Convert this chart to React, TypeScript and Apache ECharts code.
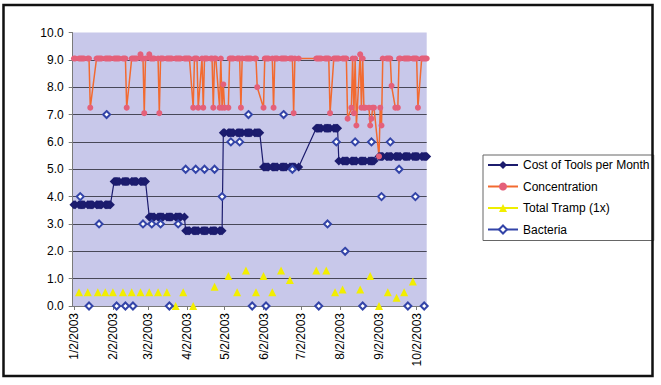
import React, { useEffect, useRef } from "react";
import * as echarts from "echarts";

// ---- axis range & tick labels ----
const FIRST_DAY = "1/1/2003";
const LAST_DAY = "10/10/2003";
const xTickLabels = [
  "1/2/2003", "2/2/2003", "3/2/2003", "4/2/2003", "5/2/2003",
  "6/2/2003", "7/2/2003", "8/2/2003", "9/2/2003", "10/2/2003",
];
const yTicks = [0, 1, 2, 3, 4, 5, 6, 7, 8, 9, 10];

// days without daily measurements (cost & concentration)
const firstSampleDay = "1/2/2003";
const noSampleRanges: [string, string][] = [
  ["7/1/2003", "7/11/2003"],
  ["9/1/2003", "9/1/2003"],
];

// ---- Cost of Tools per Month (one value per month, Jan..Oct) ----
const costPerMonth = [3.7, 4.55, 3.25, 2.75, 6.33, 5.08, 6.5, 5.3, 5.47, 5.47];

// ---- Concentration, one value per working day of each month ----
const concJan = [9.05, 9.05, 9.05, 9.05, 9.05, 9.05, 9.05, 9.05, 9.05, 7.25, null, null, 9.05, 9.05, 9.05, 9.05, 9.05, 9.05, 9.05, 9.05, 9.05, 9.05];
const concFeb = [9.05, 9.05, 9.05, 9.05, 9.05, 9.05, 9.05, 9.05, 7.25, null, 9.05, 9.05, 9.05, 9.05, 9.05, 9.2, 9.05, 9.05, 7.05, 9.05];
const concMar = [9.2, 9.05, 9.05, 9.05, 9.05, 9.05, 7.05, 9.05, 9.05, 9.05, 9.05, 9.05, 9.05, 9.05, 9.05, 9.05, 9.05, 9.05, 9.05, 9.05, 9.05];
const concApr = [9.05, 9.05, 9.05, 9.05, 7.25, 9.05, 9.05, 9.05, 7.25, 9.05, 7.25, 9.05, 9.05, 9.05, 9.05, 9.05, 7.25, 9.05, 9.05, 7.25, 9.05, 7.25];
const concMay = [8.1, 7.25, 7.25, 9.05, 9.05, 9.05, 9.05, 9.05, 9.05, 9.05, 7.25, 9.05, 9.05, 9.05, 9.05, 9.05, 9.05, 9.05, 9.05, 8.0, null, null];
const concJun = [7.25, 9.05, 9.05, 9.05, 9.05, 9.05, 7.25, 9.05, 9.05, 9.05, 9.05, 9.05, 9.05, 9.05, 9.05, 9.05, 9.05, 9.05, 7.05, 9.05, 9.05];
const concJul = [9.05, 9.05, 9.05, 9.05, 9.05, 9.05, 9.05, 9.05, 9.05, 7.05, 9.05, 9.05, 9.05, 9.05];
const concAug = [9.05, 9.05, 9.05, 9.05, 9.05, 6.85, 7.25, 9.05, 7.05, 9.05, 6.6, 9.2, 7.25, 9.05, 7.25, 7.25, 7.25, 6.6, 6.85, 7.25, 7.25];
const concSep = [5.47, 7.25, 6.6, 9.05, 9.05, 9.05, 9.05, 9.05, 8.05, 7.25, null, 7.25, 9.05, 9.05, 9.05, 9.05, 9.05, 9.05, 9.05, 9.05, 9.05];
const concOct = [9.05, 9.05, 7.25, 9.05, 9.05, 9.05, 9.05, 9.05];

// ---- Total Tramp (1x) ----
const trampDates = [
  "1/6/2003", "1/13/2003", "1/21/2003", "1/27/2003", "2/2/2003", "2/10/2003", "2/17/2003",
  "2/24/2003", "3/3/2003", "3/10/2003", "3/17/2003", "3/24/2003", "3/30/2003", "4/7/2003",
  "4/24/2003", "5/5/2003", "5/12/2003", "5/19/2003", "5/27/2003", "6/2/2003", "6/9/2003",
  "6/16/2003", "6/23/2003", "7/14/2003", "7/22/2003", "7/29/2003", "8/4/2003", "8/18/2003",
  "8/26/2003", "9/2/2003", "9/9/2003", "9/16/2003", "9/22/2003", "9/29/2003",
];
const trampValues = [
  0.5, 0.5, 0.5, 0.5, 0.5, 0.5, 0.5,
  0.5, 0.5, 0.5, 0.5, 0.0, 0.5, 0.0,
  0.7, 1.1, 0.5, 1.3, 0.5, 1.1, 0.5,
  1.3, 0.95, 1.3, 1.3, 0.5, 0.6, 0.6,
  1.1, 0.0, 0.5, 0.3, 0.5, 0.9,
];

// ---- Bacteria ----
const bacteriaDates = [
  "1/7/2003", "1/14/2003", "1/22/2003", "1/28/2003", "2/5/2003", "2/12/2003", "2/18/2003",
  "2/26/2003", "3/5/2003", "3/12/2003", "3/19/2003", "3/26/2003", "4/1/2003", "4/9/2003",
  "4/16/2003", "4/24/2003", "4/30/2003", "5/7/2003", "5/14/2003", "5/21/2003", "5/24/2003",
  "6/4/2003", "6/18/2003", "6/25/2003", "7/16/2003", "7/23/2003", "7/30/2003", "8/6/2003",
  "8/14/2003", "8/20/2003", "8/27/2003", "9/4/2003", "9/11/2003", "9/18/2003", "9/25/2003",
  "10/1/2003", "10/8/2003",
];
const bacteriaValues = [
  4, 0, 3, 7, 0, 0, 0,
  3, 3, 3, 0, 3, 5, 5,
  5, 5, 4, 6, 6, 7, 0,
  0, 7, 5, 0, 3, 6, 2,
  6, 0, 6, 4, 6, 5, 0,
  4, 0,
];

const seriesNames = ["Cost of Tools per Month", "Concentration", "Total Tramp (1x)", "Bacteria"];

// ---------------------------------------------------------------
const DAY = 86400000;
const parseKey = (s: string) => {
  const [m, d, y] = s.split("/").map(Number);
  return Date.UTC(y, m - 1, d);
};
const toKey = (t: number) => {
  const d = new Date(t);
  return `${d.getUTCMonth() + 1}/${d.getUTCDate()}/${d.getUTCFullYear()}`;
};

function buildData() {
  const categories: string[] = [];
  for (let t = parseKey(FIRST_DAY); t <= parseKey(LAST_DAY); t += DAY) categories.push(toKey(t));
  const idx = new Map<string, number>();
  categories.forEach((c, i) => idx.set(c, i));

  const n = categories.length;
  const cost: (number | null)[] = new Array(n).fill(null);
  const conc: (number | null)[] = new Array(n).fill(null);
  const tramp: (number | null)[] = new Array(n).fill(null);
  const bact: (number | null)[] = new Array(n).fill(null);

  const concByMonth = [concJan, concFeb, concMar, concApr, concMay, concJun, concJul, concAug, concSep, concOct];
  const start = parseKey(firstSampleDay);
  const end = parseKey(LAST_DAY);
  const excluded = (t: number) => noSampleRanges.some(([a, b]) => t >= parseKey(a) && t <= parseKey(b));
  const counters = new Array(12).fill(0);
  for (let t = start; t <= end; t += DAY) {
    const d = new Date(t);
    const wd = d.getUTCDay();
    if (wd === 0 || wd === 6 || excluded(t)) continue;
    const m = d.getUTCMonth();
    const i = idx.get(toKey(t))!;
    const k = counters[m]++;
    cost[i] = costPerMonth[m];
    const arr = concByMonth[m];
    if (arr && k < arr.length) conc[i] = arr[k];
  }
  trampDates.forEach((s, j) => { const i = idx.get(s); if (i !== undefined) tramp[i] = trampValues[j]; });
  bacteriaDates.forEach((s, j) => { const i = idx.get(s); if (i !== undefined) bact[i] = bacteriaValues[j]; });
  return { categories, cost, conc, tramp, bact };
}

const FONT = "'Liberation Sans', Arial, sans-serif";

export default function App() {
  const ref = useRef<HTMLDivElement>(null);
  useEffect(() => {
    if (!ref.current) return;
    const chart = echarts.init(ref.current, null, { renderer: "svg" });
    const { categories, cost, conc, tramp, bact } = buildData();
    const showTick = (_i: number, v: string) => xTickLabels.includes(v);
    chart.setOption({
      animation: false,
      backgroundColor: "#ffffff",
      textStyle: { fontFamily: FONT },
      grid: {
        left: 72.7, top: 32.5, right: 234.3, bottom: 79,
        show: true, backgroundColor: "#c8c8ea", borderWidth: 0,
      },
      xAxis: {
        type: "category",
        data: categories,
        boundaryGap: false,
        axisLine: { lineStyle: { color: "#7a7a7a", width: 1 } },
        axisTick: { show: true, interval: showTick, length: 4, lineStyle: { color: "#7a7a7a" } },
        axisLabel: {
          interval: showTick, rotate: 90, margin: 7,
          fontSize: 12, color: "#000", fontFamily: FONT,
        },
        splitLine: { show: false },
      },
      yAxis: {
        type: "value",
        min: yTicks[0], max: yTicks[yTicks.length - 1], interval: 1,
        axisLine: { show: true, lineStyle: { color: "#7a7a7a", width: 1 } },
        axisTick: { show: true, length: 4, lineStyle: { color: "#7a7a7a" } },
        axisLabel: {
          margin: 9, fontSize: 12, color: "#000", fontFamily: FONT,
          formatter: (v: number) => v.toFixed(1),
        },
        splitLine: { show: true, showMaxLine: false, lineStyle: { color: "#484858", width: 1 } },
      },
      legend: {
        orient: "vertical",
        left: 483, top: 155,
        padding: [3, 4, 4, 4],
        itemWidth: 30, itemHeight: 10, itemGap: 7.5,
        backgroundColor: "#ffffff",
        borderColor: "#666666", borderWidth: 1,
        textStyle: { fontSize: 12, fontFamily: FONT, color: "#000", lineHeight: 14 },
        data: seriesNames,
      },
      series: [
        {
          name: seriesNames[0], type: "line", data: cost, connectNulls: true,
          symbol: "diamond", symbolSize: [9, 9], showAllSymbol: true, silent: true,
          lineStyle: { color: "#1c1c6e", width: 1.2 },
          itemStyle: { color: "#1c1c6e" },
          emphasis: { disabled: true },
        },
        {
          name: seriesNames[1], type: "line", data: conc, connectNulls: true,
          symbol: "circle", symbolSize: 6, showAllSymbol: true, silent: true,
          lineStyle: { color: "#f26a30", width: 1.5 },
          itemStyle: { color: "#e4607a" },
          emphasis: { disabled: true },
        },
        {
          name: seriesNames[2], type: "line", data: tramp, connectNulls: false,
          symbol: "triangle", symbolSize: 8, showAllSymbol: true, silent: true,
          lineStyle: { color: "#eeee00", width: 1.2 },
          itemStyle: { color: "#f2ee00" },
          emphasis: { disabled: true },
        },
        {
          name: seriesNames[3], type: "line", data: bact, connectNulls: false,
          symbol: "emptyDiamond", symbolSize: 7, showAllSymbol: true, silent: true,
          lineStyle: { color: "#3344a8", width: 1.2 },
          itemStyle: { color: "#3344a8", borderWidth: 1 },
          emphasis: { disabled: true },
        },
      ],
      graphic: [
        {
          type: "rect", z: 100, silent: true,
          shape: { x: 3.5, y: 5, width: 649, height: 371 },
          style: { fill: "none", stroke: "#111111", lineWidth: 2.5 },
        },
      ],
    });
    return () => chart.dispose();
  }, []);
  return (
    <div
      ref={ref}
      style={{ position: "absolute", left: 0, top: 0, width: 661, height: 385 }}
    />
  );
}
